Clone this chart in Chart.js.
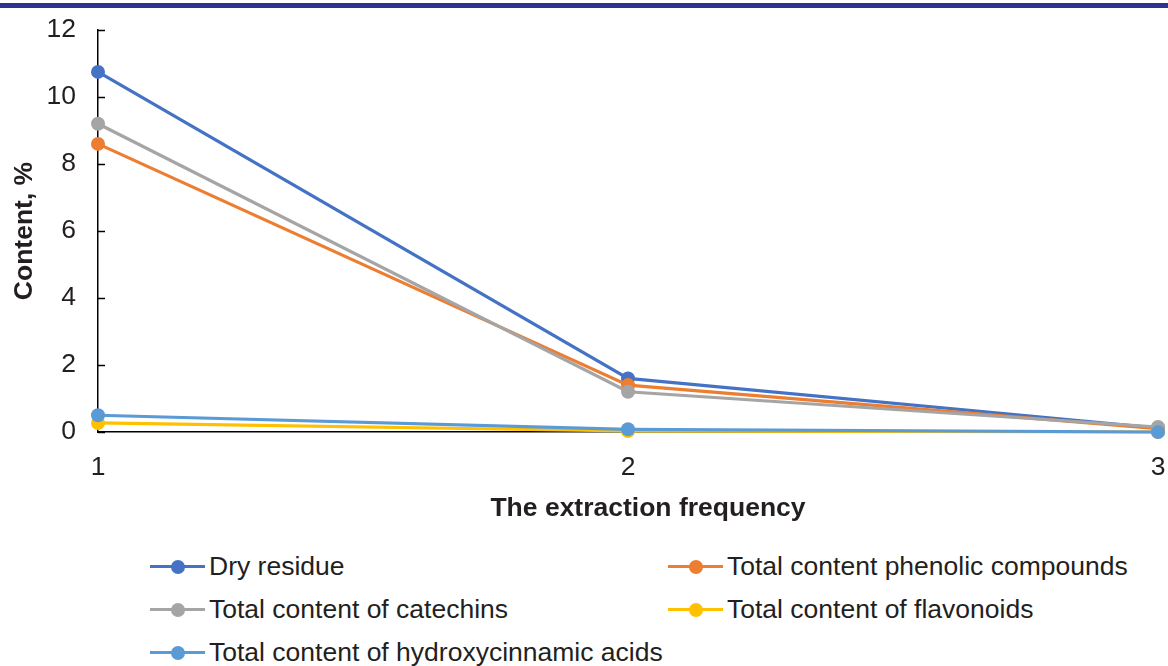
<!DOCTYPE html>
<html>
<head>
<meta charset="utf-8">
<script src="https://cdn.jsdelivr.net/npm/chart.js@4/dist/chart.umd.min.js"></script>
<style>
  html, body { margin:0; padding:0; background:#fff; }
  body { width:1168px; height:666px; position:relative; overflow:hidden; font-family:"Liberation Sans", Arial, sans-serif; }
  .topbar { position:absolute; left:0; top:3px; width:1168px; height:5px; background:#2e3192; }
  .wrap { position:absolute; left:0; top:0; width:1168px; height:540px; }
  .xtitle { position:absolute; left:348px; width:600px; top:491px; text-align:center; font-size:26.5px; font-weight:bold; color:#231f20; line-height:32px; }
  #legend { position:absolute; left:150px; top:545px; width:1018px; display:grid; grid-template-columns:518px 500px; }
  .item { display:flex; align-items:center; height:43px; font-size:26.5px; color:#231f20; white-space:nowrap; }
  .sw { position:relative; width:55px; height:14px; margin-right:4px; flex:none; }
  .sw .ln { position:absolute; left:0; right:0; top:5.5px; height:3px; }
  .sw .dt { position:absolute; left:20.5px; top:0; width:14px; height:14px; border-radius:50%; }
</style>
</head>
<body>
<div class="topbar"></div>
<div class="wrap"><canvas id="chart" width="1168" height="540"></canvas></div>
<div class="xtitle">The extraction frequency</div>
<div id="legend"></div>
<script>
// extraction data, % content per extraction
const extractions = ['1', '2', '3'];
const seriesNames = [
  'Dry residue',
  'Total content phenolic compounds',
  'Total content of catechins',
  'Total content of flavonoids',
  'Total content of hydroxycinnamic acids'
];
const dryResidue   = [10.75, 1.6, 0.12];
const phenolics    = [8.6, 1.4, 0.1];
const catechins    = [9.2, 1.2, 0.15];
const flavonoids   = [0.27, 0.03, 0.0];
const hydroxyAcids = [0.5, 0.08, 0.0];
const yTicks = [0, 2, 4, 6, 8, 10, 12];

const colors = ['#4472c4', '#ed7d31', '#a5a5a5', '#ffc000', '#5b9bd5'];
const values = [dryResidue, phenolics, catechins, flavonoids, hydroxyAcids];

const datasets = values.map((v, i) => ({
  label: seriesNames[i],
  data: v,
  borderColor: colors[i],
  backgroundColor: colors[i],
  borderWidth: 3.2,
  pointRadius: 7,
  pointHoverRadius: 7,
  pointBorderWidth: 0,
  tension: 0,
  clip: false,
  order: values.length - i
}));

// short inward tick marks on the value axis
const innerTicks = {
  id: 'innerTicks',
  afterDraw(chart) {
    const y = chart.scales.y, ctx = chart.ctx, x0 = chart.chartArea.left;
    ctx.save();
    ctx.strokeStyle = '#000';
    ctx.lineWidth = 1.5;
    yTicks.forEach(t => {
      const py = Math.round(y.getPixelForValue(t)) + 0.5;
      ctx.beginPath();
      ctx.moveTo(x0, py);
      ctx.lineTo(x0 + 7, py);
      ctx.stroke();
    });
    ctx.restore();
  }
};

const font = { family: '"Liberation Sans", Arial, sans-serif', size: 26.5 };
const textColor = '#231f20';

const chart = new Chart(document.getElementById('chart'), {
  type: 'line',
  data: { labels: extractions, datasets },
  options: {
    responsive: false,
    animation: false,
    events: [],
    layout: { padding: { top: 30, right: 10, left: 0, bottom: 0 } },
    plugins: { legend: { display: false }, tooltip: { enabled: false } },
    scales: {
      x: {
        offset: false,
        grid: { display: false, drawTicks: false },
        border: { display: true, color: '#000', width: 1.5 },
        ticks: { color: textColor, font, padding: 20 },
        // fixed height, and no extra room kept for the end labels
        afterFit(s) { s.height = 108; s.paddingLeft = 0; s.paddingRight = 0; }
      },
      y: {
        min: 0, max: 12,
        afterBuildTicks(s) { s.ticks = yTicks.map(v => ({ value: v })); },
        grid: { display: false, drawTicks: false },
        border: { display: true, color: '#000', width: 1.5 },
        ticks: { color: textColor, font, padding: 22 },
        title: { display: true, text: 'Content, %', color: textColor,
                 font: { ...font, weight: 'bold' }, padding: { top: 9, bottom: 0 } },
        afterFit(s) { s.width = 98; s.paddingTop = 0; s.paddingBottom = 0; }
      }
    }
  },
  plugins: [innerTicks]
});

// legend in two columns, built from the chart datasets
const legendEl = document.getElementById('legend');
chart.data.datasets.forEach(ds => {
  const item = document.createElement('div');
  item.className = 'item';
  item.innerHTML = '<span class="sw"><span class="ln" style="background:' + ds.borderColor +
    '"></span><span class="dt" style="background:' + ds.borderColor + '"></span></span>' + ds.label;
  legendEl.appendChild(item);
});
</script>
</body>
</html>
